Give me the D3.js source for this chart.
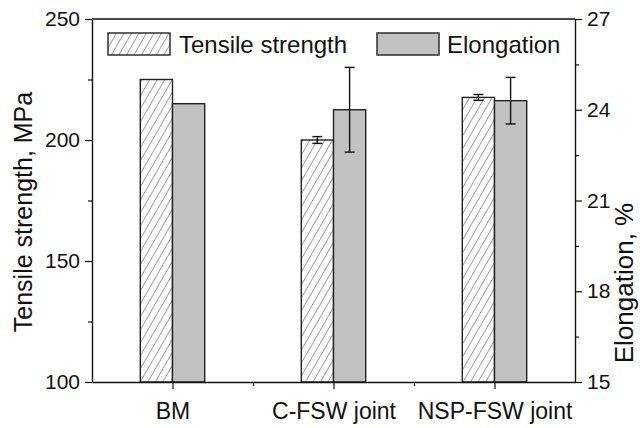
<!DOCTYPE html>
<html>
<meta charset="utf-8">
<style>
  body { margin: 0; background: #fff; }
  text { font-family: Arial, "Liberation Sans", sans-serif; fill: #111; }
</style>
<body>
<script src="https://d3js.org/d3.v7.min.js"></script>
<script>
  // data
  const categories = ["BM", "C-FSW joint", "NSP-FSW joint"];
  const tensile = [225, 200, 217.6];
  const tensileErr = [0, 1.4, 1.2];
  const elongation = [24.2, 24.0, 24.3];
  const elongationErr = [0, 1.4, 0.77];
  const leftTicks = [100, 150, 200, 250];
  const rightTicks = [15, 18, 21, 24, 27];
  const seriesNames = ["Tensile strength", "Elongation"];

  const W = 643, H = 428;
  const margin = {top: 19, right: 68, bottom: 46, left: 92};

  const svg = d3.select("body").append("svg").attr("width", W).attr("height", H);

  // hatch for tensile bars
  const defs = svg.append("defs");
  defs.append("pattern")
      .attr("id", "hatch")
      .attr("patternUnits", "userSpaceOnUse")
      .attr("width", 6.5).attr("height", 10)
      .attr("patternTransform", "rotate(30)")
    .call(p => p.append("rect").attr("width", 6.5).attr("height", 10).attr("fill", "#fff"))
    .append("line")
      .attr("x1", 0).attr("y1", 0).attr("x2", 0).attr("y2", 10)
      .attr("stroke", "#444").attr("stroke-width", 1);

  const x = d3.scaleLinear().domain([0.5, categories.length + 0.5]).range([margin.left, W - margin.right]);
  const yL = d3.scaleLinear().domain([100, 250]).range([H - margin.bottom, margin.top]);
  const yR = d3.scaleLinear().domain([15, 27]).range([H - margin.bottom, margin.top]);
  const bw = 0.2; // bar width in category units

  // bars
  const g = svg.append("g");
  g.selectAll("rect.ts").data(tensile).join("rect")
      .attr("class", "ts")
      .attr("x", (d, i) => x(i + 1 - bw))
      .attr("width", x(1) - x(1 - bw))
      .attr("y", d => yL(d))
      .attr("height", d => yL(100) - yL(d))
      .attr("fill", "url(#hatch)")
      .attr("stroke", "#222").attr("stroke-width", 1.4);

  g.selectAll("rect.el").data(elongation).join("rect")
      .attr("class", "el")
      .attr("x", (d, i) => x(i + 1))
      .attr("width", x(1 + bw) - x(1))
      .attr("y", d => yR(d))
      .attr("height", d => yR(15) - yR(d))
      .attr("fill", "#c2c2c2")
      .attr("stroke", "#222").attr("stroke-width", 1.4);

  // error bars
  function errBars(vals, errs, y, cx) {
    vals.forEach((v, i) => {
      if (!errs[i]) return;
      const xc = cx(i), y0 = y(v - errs[i]), y1 = y(v + errs[i]);
      const e = g.append("g").attr("stroke", "#111").attr("stroke-width", 1.4);
      e.append("line").attr("x1", xc).attr("x2", xc).attr("y1", y0).attr("y2", y1);
      e.append("line").attr("x1", xc - 5).attr("x2", xc + 5).attr("y1", y0).attr("y2", y0);
      e.append("line").attr("x1", xc - 5).attr("x2", xc + 5).attr("y1", y1).attr("y2", y1);
    });
  }
  errBars(tensile, tensileErr, yL, i => x(i + 1 - bw / 2));
  errBars(elongation, elongationErr, yR, i => x(i + 1 + bw / 2));

  // axes
  const axisStyle = a => {
    a.select(".domain").attr("stroke", "#111").attr("stroke-width", 1.4);
    a.selectAll(".tick line").attr("stroke", "#111").attr("stroke-width", 1.2);
    a.selectAll(".tick text").style("font-size", "21px").attr("fill", "#111");
  };

  svg.append("g").attr("transform", `translate(${margin.left},0)`)
      .call(d3.axisLeft(yL).tickValues([125, 175, 225]).tickSize(4).tickFormat(""))
      .call(a => a.select(".domain").remove())
      .selectAll("line").attr("stroke", "#111").attr("stroke-width", 1.2);
  svg.append("g").attr("transform", `translate(${margin.left},0)`)
      .call(d3.axisLeft(yL).tickValues(leftTicks).tickSize(7).tickSizeOuter(0).tickPadding(5))
      .call(axisStyle);

  svg.append("g").attr("transform", `translate(${W - margin.right},0)`)
      .call(d3.axisRight(yR).tickValues([16.5, 19.5, 22.5, 25.5]).tickSize(4).tickFormat(""))
      .call(a => a.select(".domain").remove())
      .selectAll("line").attr("stroke", "#111").attr("stroke-width", 1.2);
  svg.append("g").attr("transform", `translate(${W - margin.right},0)`)
      .call(d3.axisRight(yR).tickValues(rightTicks).tickSize(7).tickSizeOuter(0).tickPadding(5))
      .call(axisStyle);

  svg.append("g").attr("transform", `translate(0,${H - margin.bottom})`)
      .call(d3.axisBottom(x).tickValues([1.5, 2.5]).tickSize(4).tickFormat(""))
      .call(a => a.select(".domain").remove())
      .selectAll("line").attr("stroke", "#111").attr("stroke-width", 1.2);
  svg.append("g").attr("transform", `translate(0,${H - margin.bottom})`)
      .call(d3.axisBottom(x).tickValues([1, 2, 3]).tickSize(7).tickSizeOuter(0)
        .tickPadding(14).tickFormat(d => categories[d - 1]))
      .call(axisStyle)
      .call(a => a.selectAll(".tick text").style("font-size", "23px"));

  // top frame
  svg.append("line")
      .attr("x1", margin.left).attr("x2", W - margin.right)
      .attr("y1", margin.top).attr("y2", margin.top)
      .attr("stroke", "#111").attr("stroke-width", 1.4);

  // axis titles
  svg.append("text")
      .attr("transform", `translate(32,212) rotate(-90)`)
      .attr("text-anchor", "middle")
      .style("font-size", "25px")
      .text("Tensile strength, MPa");
  svg.append("text")
      .attr("transform", `translate(${W - 10},283) rotate(-90)`)
      .attr("text-anchor", "middle")
      .style("font-size", "26px")
      .text("Elongation, %");

  // legend
  const legend = svg.append("g");
  const legItems = [
    {name: seriesNames[0], fill: "url(#hatch)", x: 108, tx: 179},
    {name: seriesNames[1], fill: "#c2c2c2", x: 377, tx: 447}
  ];
  legItems.forEach(it => {
    legend.append("rect").attr("x", it.x).attr("y", 33).attr("width", 62).attr("height", 22)
        .attr("fill", it.fill).attr("stroke", "#222").attr("stroke-width", 1.4);
    legend.append("text").attr("x", it.tx).attr("y", 53).style("font-size", "24px").text(it.name);
  });
</script>
</body>
</html>
